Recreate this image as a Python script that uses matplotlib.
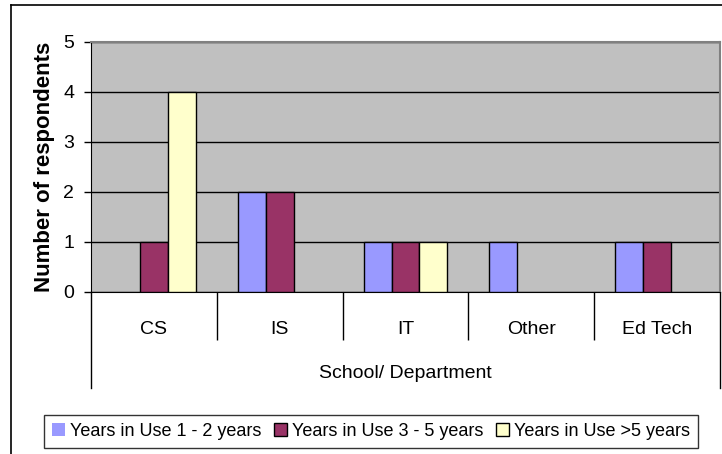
import matplotlib
matplotlib.use('Agg')
import matplotlib.pyplot as plt
from matplotlib.lines import Line2D
import numpy as np

plt.rcParams['font.family'] = ['Liberation Sans', 'DejaVu Sans']

# --------------------------------------------------------------
# data
departments = ['CS', 'IS', 'IT', 'Other', 'Ed Tech']
series_names = ['Years in Use 1 - 2 years', 'Years in Use 3 - 5 years', 'Years in Use >5 years']
use_1_2 = [0, 2, 1, 1, 1]
use_3_5 = [1, 2, 1, 0, 1]
use_5_plus = [4, 0, 1, 0, 0]
bar_colors = ['#9999FF', '#993366', '#FFFFCC']

W, H = 722, 454
fig = plt.figure(figsize=(W / 100, H / 100), dpi=100)
ax = fig.add_axes([91 / W, 1 - 292 / H, 629 / W, 250 / H])
ax.set_facecolor('#C0C0C0')

# --------------------------------------------------------------
# bars (excel style, gap width 150%)
x = np.arange(len(departments))
bw = 1 / 4.5
for i, vals in enumerate([use_1_2, use_3_5, use_5_plus]):
    lw = [1 if v > 0 else 0 for v in vals]  # no outline for empty bars
    ax.bar(x + (i - 1) * bw, vals, width=bw, color=bar_colors[i], edgecolor='black',
           linewidth=lw, label=series_names[i], zorder=3)

ax.set_xlim(-0.5, len(departments) - 0.5)
ax.set_ylim(0, 5)
ax.set_yticks(range(0, 6))
ax.yaxis.grid(True, color='black', linewidth=1, zorder=1)
ax.tick_params(axis='y', direction='out', length=5, width=1, labelsize=14, pad=7)

# category labels and separators below the axis
ax.set_xticks(x)
ax.set_xticklabels(departments, fontsize=14)
ax.tick_params(axis='x', which='major', length=0, pad=21)
ax.set_xticks(np.arange(0.5, len(departments) - 0.5), minor=True)
ax.tick_params(axis='x', which='minor', direction='out', length=34.5, width=1, color='black')

trans = ax.get_xaxis_transform()
for xb in [-0.5, len(departments) - 0.5]:
    ax.plot([xb, xb], [0, -96 / 250], color='black', linewidth=1, transform=trans, clip_on=False)
ax.text((len(departments) - 1) / 2, -81 / 250, 'School/ Department', transform=trans,
        ha='center', va='center', fontsize=14)

ax.set_ylabel('Number of respondents', fontsize=16, fontweight='bold', labelpad=6)

for side in ['left', 'bottom']:
    ax.spines[side].set_color('black')
for side in ['top', 'right']:
    ax.spines[side].set_color('#808080')
    ax.spines[side].set_linewidth(1.5)

# legend box
leg = fig.legend(loc='center', bbox_to_anchor=(371 / W, 1 - 431.5 / H), ncol=3, fontsize=13,
                 frameon=True, fancybox=False, edgecolor='black', handlelength=0.7,
                 handleheight=0.7, handletextpad=0.3, columnspacing=0.7, borderpad=0.45)
leg.get_frame().set_linewidth(1)

# outer chart border (only left and top visible)
fig.add_artist(Line2D([11 / W, 11 / W], [0, 1 - 5 / H], color='black', linewidth=1.2, transform=fig.transFigure))
fig.add_artist(Line2D([11 / W, 1], [1 - 5 / H, 1 - 5 / H], color='black', linewidth=1.2, transform=fig.transFigure))

plt.savefig('out.png', dpi=100)
